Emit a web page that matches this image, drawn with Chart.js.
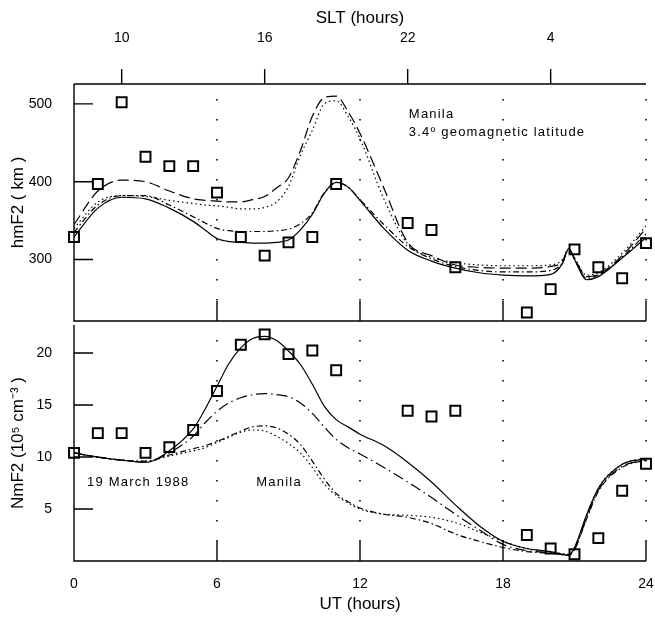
<!DOCTYPE html>
<html>
<head>
<meta charset="utf-8">
<script src="https://cdn.jsdelivr.net/npm/chart.js@4.4.0/dist/chart.umd.min.js"></script>
<style>
  html, body { margin: 0; padding: 0; background: #fff; }
  #wrap { position: relative; width: 655px; height: 619px; }
  #wrap canvas { position: absolute; left: 0; }
  #hmChart { top: 0; }
  #nmChart { top: 316px; }
</style>
</head>
<body>
<div id="wrap">
  <canvas id="hmChart" width="655" height="330"></canvas>
  <canvas id="nmChart" width="655" height="303"></canvas>
</div>
<script>
// Model hours (UT) shared by all model curves
const modelUT = [0, 1, 2, 3, 4, 5, 5.5, 6, 6.5, 7, 7.5, 8, 8.5, 9, 9.5, 10, 10.5, 11, 11.5, 12,
  13, 14, 15, 16, 17, 18, 19, 20, 20.5, 20.75, 21, 21.5, 22, 23, 24];

// hmF2 (km) model curves
const hmSolid   = [329, 366, 380, 378, 366, 349, 338, 327, 323, 322, 321, 321, 322, 325, 338, 358, 385, 399, 393, 376,
  340, 312, 298, 289, 283, 280, 279, 281, 295, 314, 300, 274, 278, 302, 328];
const hmDashed  = [345, 388, 402, 400, 388, 378, 376, 375, 374, 374, 377, 381, 392, 405, 440, 484, 508, 510, 490, 462,
  392, 322, 305, 293, 290, 289, 289, 291, 298, 314, 302, 278, 281, 305, 340];
const hmDotted  = [340, 374, 382, 381, 376, 372, 370, 369, 367, 365, 365, 367, 374, 394, 434, 466, 500, 504, 484, 455,
  378, 320, 303, 296, 293, 292, 292, 293, 300, 312, 302, 280, 283, 308, 343];
const hmDashDot = [335, 370, 382, 382, 370, 355, 347, 340, 337, 336, 336, 336, 337, 339, 346, 360, 386, 399, 393, 377,
  345, 317, 301, 291, 286, 284, 284, 286, 296, 313, 300, 276, 280, 303, 333];

// NmF2 (10^5 cm^-3) model curves
const nmSolid   = [10.4, 10.0, 9.7, 9.5, 10.6, 12.7, 14.6, 16.8, 19.0, 20.5, 21.4, 21.6, 21.2, 20.2, 18.9, 17.0, 14.9, 13.6, 12.9, 12.2,
  11.1, 9.5, 7.6, 5.4, 3.4, 1.9, 1.2, 0.9, 0.65, 0.6, 1.3, 4.4, 7.0, 9.3, 9.8];
const nmDashed  = [10.4, 10.0, 9.7, 9.5, 10.4, 12.0, 13.3, 14.4, 15.2, 15.7, 16.0, 16.1, 16.0, 15.8, 15.2, 14.2, 12.9, 11.7, 10.9, 10.3,
  9.0, 7.6, 6.1, 4.5, 3.0, 1.6, 1.0, 0.8, 0.6, 0.55, 1.1, 4.1, 6.8, 9.1, 9.7];
const nmDashDot = [10.4, 10.0, 9.7, 9.6, 10.2, 10.8, 11.1, 11.5, 12.0, 12.5, 12.9, 13.0, 12.8, 12.2, 11.2, 9.6, 7.9, 6.5, 5.7, 5.1,
  4.5, 4.2, 3.6, 2.6, 1.9, 1.3, 0.9, 0.75, 0.6, 0.55, 1.1, 4.0, 6.7, 9.0, 9.7];
const nmDotted  = [10.4, 10.0, 9.7, 9.6, 10.1, 10.6, 10.9, 11.4, 11.9, 12.4, 12.6, 12.5, 12.0, 11.3, 10.4, 9.0, 7.4, 6.3, 5.6, 5.0,
  4.5, 4.4, 4.2, 3.7, 2.8, 1.9, 1.2, 0.9, 0.7, 0.65, 1.2, 4.2, 7.0, 9.3, 9.9];

// Ionosonde observations
const obsUT = [0, 1, 2, 3, 4, 5, 6, 7, 8, 9, 10, 11, 14, 15, 16, 19, 20, 21, 22, 23, 24];
const obsHm = [329, 397, 502, 432, 420, 420, 386, 329, 305, 322, 329, 397, 347, 338, 290, 232, 262, 313, 290, 276, 321];
const obsNm = [10.4, 12.3, 12.3, 10.4, 10.95, 12.6, 16.35, 20.8, 21.8, 19.9, 20.25, 18.35, 14.45, 13.9, 14.45, 2.5, 1.2, 0.65, 2.2, 6.75, 9.35];

// Axis ticks
const utTicks = [0, 6, 12, 18, 24];
const sltUT = [2, 8, 14, 20];
const hmTicks = [300, 400, 500];
const nmTicks = [5, 10, 15, 20];

const FONT = '"Liberation Sans", Arial, sans-serif';
Chart.defaults.font.family = FONT;
Chart.defaults.color = '#000';
Chart.defaults.animation = false;

function modelSet(values, dash) {
  return {
    type: 'line',
    data: modelUT.map((t, i) => ({ x: t, y: values[i] })),
    borderColor: '#000',
    borderWidth: 1.2,
    borderDash: dash,
    pointRadius: 0,
    cubicInterpolationMode: 'monotone',
    fill: false
  };
}

function obsSet(values) {
  return {
    type: 'scatter',
    data: obsUT.map((t, i) => ({ x: t, y: values[i] })),
    pointStyle: 'rect',
    pointRadius: 7,
    borderColor: '#000',
    borderWidth: 2,
    backgroundColor: 'rgba(0,0,0,0)',
    clip: false
  };
}

// keep the plot box where we put it: no extra room for edge labels
function noEdgePad(s) {
  s.paddingTop = 0; s.paddingBottom = 0;
  s.paddingLeft = 0; s.paddingRight = 0;
}

// frame, inner ticks, dotted hour lines and text notes
function framePlugin(yTicks, withTop, notes) {
  return {
    id: 'frame',
    afterDatasetsDraw(chart) {
      const { ctx, chartArea: a, scales } = chart;
      const x = scales.x, y = scales.y;
      ctx.save();
      ctx.strokeStyle = '#000';
      ctx.lineWidth = 1.4;
      ctx.beginPath();
      ctx.moveTo(a.left, a.top); ctx.lineTo(a.left, a.bottom);
      ctx.lineTo(a.right, a.bottom);
      if (withTop) {
        ctx.moveTo(a.left, a.top); ctx.lineTo(a.right, a.top);
        sltUT.forEach(h => {
          const px = x.getPixelForValue(h);
          ctx.moveTo(px, a.top); ctx.lineTo(px, a.top - 15);
        });
      }
      yTicks.forEach(v => {
        const py = y.getPixelForValue(v);
        ctx.moveTo(a.left, py); ctx.lineTo(a.left + 19, py);
      });
      [6, 12, 18, 24].forEach(h => {
        const px = x.getPixelForValue(h);
        ctx.moveTo(px, a.bottom); ctx.lineTo(px, a.bottom - 20);
      });
      ctx.stroke();

      ctx.lineWidth = 1.6;
      ctx.setLineDash([1.6, 18.4]);
      ctx.beginPath();
      [6, 12, 18, 24].forEach(h => {
        const px = x.getPixelForValue(h);
        ctx.moveTo(px, a.top + 15); ctx.lineTo(px, a.bottom - 20);
      });
      ctx.stroke();
      ctx.setLineDash([]);

      ctx.fillStyle = '#000';
      ctx.font = '13px ' + FONT;
      ctx.textBaseline = 'middle';
      ctx.textAlign = 'left';
      if ('letterSpacing' in ctx) ctx.letterSpacing = '1.2px';
      notes.forEach(n => {
        ctx.fillText(n.text, x.getPixelForValue(n.x), y.getPixelForValue(n.y));
      });
      ctx.restore();
    }
  };
}

function yScale(min, max, ticks, title) {
  return {
    min: min,
    max: max,
    afterBuildTicks: s => { s.ticks = ticks.map(v => ({ value: v })); },
    ticks: { padding: 14, font: { size: 14 } },
    grid: { display: false },
    border: { display: false },
    title: { display: true, text: title, font: { size: 17 }, padding: { top: 8, bottom: 0 } },
    afterFit: s => { s.width = 74; noEdgePad(s); }
  };
}

// hmF2 panel
new Chart(document.getElementById('hmChart').getContext('2d'), {
  type: 'line',
  data: {
    datasets: [
      obsSet(obsHm),
      modelSet(hmSolid, []),
      modelSet(hmDashed, [11, 5]),
      modelSet(hmDotted, [1.5, 3]),
      modelSet(hmDashDot, [6, 3, 1.5, 3])
    ]
  },
  options: {
    responsive: false,
    layout: { padding: { left: 0, right: 7, top: 0, bottom: 7 } },
    plugins: { legend: { display: false }, tooltip: { enabled: false } },
    scales: {
      x: { type: 'linear', min: 0, max: 24, display: false },
      slt: {
        type: 'linear',
        axis: 'x',
        position: 'top',
        min: 0,
        max: 24,
        afterBuildTicks: s => { s.ticks = sltUT.map(v => ({ value: v })); },
        ticks: { padding: 29, font: { size: 14 }, callback: v => String((v + 8) % 24) },
        grid: { display: false },
        border: { display: false },
        title: { display: true, text: 'SLT (hours)', font: { size: 17 }, padding: { top: 8, bottom: 0 } },
        afterFit: s => { s.height = 84; noEdgePad(s); }
      },
      y: yScale(221, 525.5, hmTicks, 'hmF2 ( km )')
    }
  },
  plugins: [framePlugin(hmTicks, true, [
    { text: 'Manila', x: 14.05, y: 487 },
    { text: '3.4º geomagnetic latitude', x: 14.05, y: 463 }
  ])]
});

// NmF2 panel
new Chart(document.getElementById('nmChart').getContext('2d'), {
  type: 'line',
  data: {
    datasets: [
      obsSet(obsNm),
      modelSet(nmSolid, []),
      modelSet(nmDashed, [11, 4, 1.5, 4]),
      modelSet(nmDashDot, [6, 3, 1.5, 3]),
      modelSet(nmDotted, [1.5, 3])
    ]
  },
  options: {
    responsive: false,
    layout: { padding: { left: 0, right: 7, top: 7, bottom: 0 } },
    plugins: { legend: { display: false }, tooltip: { enabled: false } },
    scales: {
      x: {
        type: 'linear',
        min: 0,
        max: 24,
        afterBuildTicks: s => { s.ticks = utTicks.map(v => ({ value: v })); },
        ticks: { padding: 7, font: { size: 14 } },
        grid: { display: false },
        border: { display: false },
        title: { display: true, text: 'UT (hours)', font: { size: 17 }, padding: { top: 0, bottom: 4 } },
        afterFit: s => { s.height = 58; noEdgePad(s); }
      },
      y: yScale(0, 22.7, nmTicks, 'NmF2 (10⁵ cm⁻³ )')
    }
  },
  plugins: [framePlugin(nmTicks, false, [
    { text: '19 March 1988', x: 0.55, y: 7.6 },
    { text: 'Manila', x: 7.65, y: 7.6 }
  ])]
});
</script>
</body>
</html>
